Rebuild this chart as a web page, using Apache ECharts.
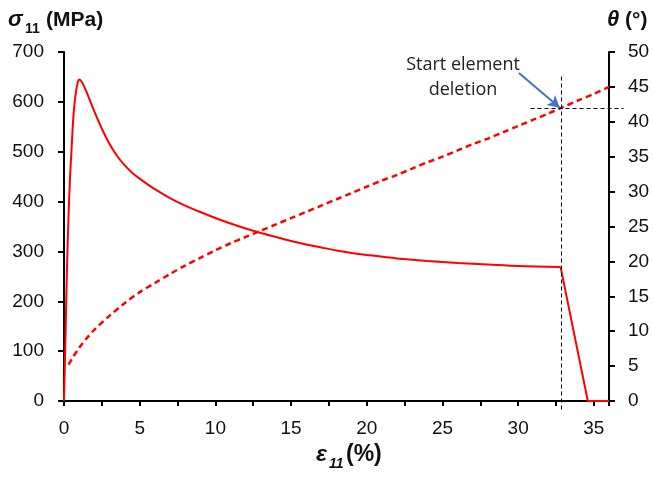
<!DOCTYPE html>
<html>
<head>
<meta charset="utf-8">
<script src="https://cdn.jsdelivr.net/npm/echarts@6/dist/echarts.min.js"></script>
<style>html,body{margin:0;padding:0;background:#fff}#c{width:653px;height:477px}</style>
</head>
<body>
<div id="c"></div>
<script>
// strain (%) vs stress sigma11 (MPa), loading branch
const stressStrain = [0,0.1,0.2,0.3,0.4,0.5,0.6,0.7,0.8,0.9,1.0,1.1,1.25,1.5,1.75,2,2.5,3,3.5,4,4.5,5,5.5,6,7,8,9,10,11,12,13,14,15,16,17,18,19,20,22,24,26,28,30,32.8];
const stressValues = [0,130,270,370,450,505,562,598,622,638,645,643,636,619,600,581,546,516,492,473,458,446,435,425,407,392,379,367,356,346,337,329,321,314,308,302,297,293,286,281,277,274,271,269];
// element deletion branch
const dropStrain = [32.8,34.6,36];
const dropValues = [269,0,0];
// strain (%) vs rotation theta (deg)
const thetaStrain = [0.3,0.6,1,1.5,2,3,4,5,6,7,8,9,10,11,12,13,14,15,16,17,18,19,20,21,22,23,24,25,26,27,28,29,30,31,32,32.85,34,35,36];
const thetaValues = [5.2,6.3,7.6,9.0,10.2,12.2,14.0,15.6,16.9,18.2,19.4,20.5,21.6,22.6,23.5,24.4,25.3,26.2,27.1,28.0,28.9,29.8,30.7,31.6,32.4,33.3,34.2,35.0,35.9,36.8,37.6,38.5,39.4,40.3,41.2,42.0,43.1,44.0,45.0];
// deletion marker and annotation (strain %, theta deg)
const deletionStrain = 32.83;
const deletionTheta = 42;
const vLineTheta = [46.6, -1.3];
const hLineStrain = [30.78, 36.9];
const arrowFrom = [30.05, 47.0];
const arrowTo = [32.75, 42.0];
const xTicks = {min:0, max:36, interval:2.5};
const yLeft = {min:0, max:700, interval:100};
const yRight = {min:0, max:50, interval:5};

const stressData = stressStrain.map((x,i)=>[x, stressValues[i]]);
const dropData = dropStrain.map((x,i)=>[x, dropValues[i]]);
const thetaData = thetaStrain.map((x,i)=>[x, thetaValues[i]]);

const axisCol = '#000';
const F = '"Liberation Sans", Arial, sans-serif';
const lblFont = {color:'#111', fontSize:19, fontFamily:F};
const chart = echarts.init(document.getElementById('c'), null, {renderer:'canvas'});
const T = (text, x, y, font, align) => ({type:'text', silent:true, style:{text, x, y, font, fill:'#111', align:align||'left', verticalAlign:'middle', textAlign:align||'left', textVerticalAlign:'middle'}});
const axisBase = {axisLine:{show:true, onZero:false, lineStyle:{color:axisCol, width:2}},
  splitLine:{show:false}};
chart.setOption({
  animation:false,
  grid:{left:64, right:44, top:52, bottom:76, containLabel:false},
  xAxis:Object.assign({type:'value', min:xTicks.min, max:xTicks.max, interval:xTicks.interval,
    axisTick:{show:true, length:5, lineStyle:{color:axisCol, width:2}},
    axisLabel:Object.assign({margin:18, formatter:v=> (Math.abs(v%5)<1e-9 && v<=35) ? String(v) : ''}, lblFont)}, axisBase),
  yAxis:[
    Object.assign({type:'value', min:yLeft.min, max:yLeft.max, interval:yLeft.interval, position:'left',
      axisTick:{show:true, length:6, lineStyle:{color:axisCol, width:2}},
      axisLabel:Object.assign({margin:20}, lblFont)}, axisBase),
    Object.assign({type:'value', min:yRight.min, max:yRight.max, interval:yRight.interval, position:'right',
      axisTick:{show:true, length:6, lineStyle:{color:axisCol, width:2}},
      axisLabel:Object.assign({margin:19}, lblFont)}, axisBase)
  ],
  series:[
    {type:'line', name:'stress', data:stressData, yAxisIndex:0, showSymbol:false, symbol:'none', smooth:0.3,
      lineStyle:{color:'#ff0000', width:2}, itemStyle:{color:'#ff0000'}, z:3},
    {type:'line', name:'drop', data:dropData, yAxisIndex:0, showSymbol:false, symbol:'none',
      lineStyle:{color:'#ff0000', width:2}, itemStyle:{color:'#ff0000'}, z:3},
    {type:'line', name:'theta', data:thetaData, yAxisIndex:1, showSymbol:false, symbol:'none', smooth:0.3,
      lineStyle:{color:'#ff0000', width:2.5, type:[6,4]}, itemStyle:{color:'#ff0000'}, z:3,
      markLine:{silent:true, symbol:['none','none'], animation:false, label:{show:false}, emphasis:{disabled:true},
        data:[
          [{coord:arrowFrom, symbol:'none', lineStyle:{color:'#4472C4', width:2, type:'solid'}},{coord:arrowTo, symbol:'arrow', symbolSize:[10,12]}]
        ]}}
  ]
});
// dashed guide lines, positioned through the axes' own scales
const px = p => chart.convertToPixel({xAxisIndex:0, yAxisIndex:1}, p).map(v => Math.round(v) + 0.5);
const v0 = px([deletionStrain, vLineTheta[0]]), v1 = px([deletionStrain, vLineTheta[1]]);
const h0 = px([hLineStrain[0], deletionTheta]), h1 = px([hLineStrain[1], deletionTheta]);
const dash = {stroke:'#000', lineWidth:1, lineDash:[4,3]};
chart.setOption({
  graphic:[
    {type:'line', silent:true, z:10, shape:{x1:v0[0], y1:v0[1], x2:v0[0], y2:v1[1]}, style:dash},
    {type:'line', silent:true, z:10, shape:{x1:h0[0], y1:h0[1], x2:h1[0], y2:h0[1]}, style:dash},
    T('σ', 8, 20, 'italic bold 22px '+F),
    T('11', 25, 29, 'bold 14px '+F),
    T('(MPa)', 46, 20, 'bold 21px '+F),
    T('θ', 607, 20, 'italic bold 22px '+F),
    T('(°)', 625, 20, 'bold 21px '+F),
    T('ε', 316, 455, 'italic bold 23px '+F),
    T('11', 329, 464, 'italic bold 14px '+F),
    T('(%)', 346, 455, 'bold 23px '+F),
    {type:'text', silent:true, style:{text:'Start element', x:463, y:65, font:'18px "Open Sans", sans-serif', fill:'#222', align:'center', verticalAlign:'middle', textAlign:'center', textVerticalAlign:'middle'}},
    {type:'text', silent:true, style:{text:'deletion', x:463, y:90, font:'18px "Open Sans", sans-serif', fill:'#222', align:'center', verticalAlign:'middle', textAlign:'center', textVerticalAlign:'middle'}}
  ]
});
</script>
</body>
</html>
